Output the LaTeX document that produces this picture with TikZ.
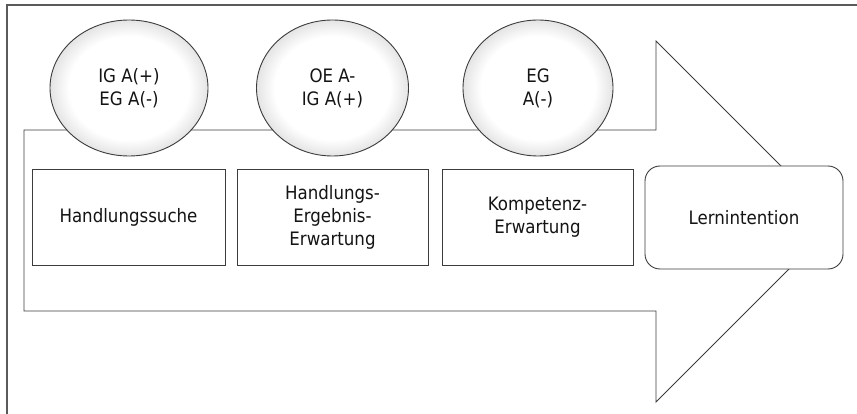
\documentclass[tikz,border=0pt]{standalone}
\usepackage{fontspec}
\setmainfont{DejaVu Sans Condensed}
\usetikzlibrary{shapes.geometric}

\definecolor{rimgray}{RGB}{175,175,175}
\definecolor{midgray}{RGB}{228,228,228}
\definecolor{framegray}{RGB}{90,90,90}
\definecolor{linegray}{RGB}{60,60,60}

% shading for the stage bubbles: white core, grey rim
\pgfdeclareradialshading{bubbleshade}{\pgfpoint{0bp}{0bp}}{%
  color(0bp)=(white); color(19bp)=(white); color(25bp)=(midgray);
  color(31bp)=(rimgray); color(50bp)=(rimgray)}

\tikzset{
  labeltext/.style={font=\fontsize{18.5}{23}\selectfont, align=center, text=black!92},
  bubble/.style={ellipse, draw=linegray, line width=0.9pt, shading=bubbleshade,
    minimum width=152pt, minimum height=136pt, inner sep=0pt, labeltext},
  stagebox/.style={rectangle, draw=linegray, line width=0.9pt, fill=white,
    minimum width=193pt, minimum height=96pt, inner sep=0pt, labeltext},
  goalbox/.style={rectangle, rounded corners=15pt, draw=linegray, line width=0.9pt,
    fill=white, minimum width=198pt, minimum height=103pt, inner sep=0pt, labeltext},
  bigarrow/.style={draw=linegray, line width=0.9pt, fill=white, line join=miter}
}

\begin{document}
\begin{tikzpicture}[x=1pt,y=-1pt]
  \useasboundingbox (0,0) rectangle (857,414);

  % outer frame (top and left edges)
  \draw[framegray, line width=1.4pt] (7,414) -- (7,5) -- (857,5);

  % process arrow
  \draw[bigarrow] (24,130) -- (656,130) -- (656,41) -- (836.5,221.5)
    -- (656,402) -- (656,311) -- (24,311) -- cycle;

  % stage bubbles
  \node[bubble, minimum width=158pt] (b1) at (129,88) {IG A(+)\\EG A(-)};
  \node[bubble] (b2) at (332.5,88) {OE A-\\IG A(+)};
  \node[bubble, minimum width=150pt] (b3) at (538,88) {EG\\A(-)};

  % stage boxes
  \node[stagebox] (s1) at (128.5,217) {Handlungssuche};
  \node[stagebox, minimum width=191pt] (s2) at (332.5,217) {Handlungs-\\Ergebnis-\\Erwartung};
  \node[stagebox, minimum width=191pt] (s3) at (537.5,217) {Kompetenz-\\Erwartung};
  \node[goalbox] (goal) at (744,217.5) {Lernintention};
\end{tikzpicture}
\end{document}
